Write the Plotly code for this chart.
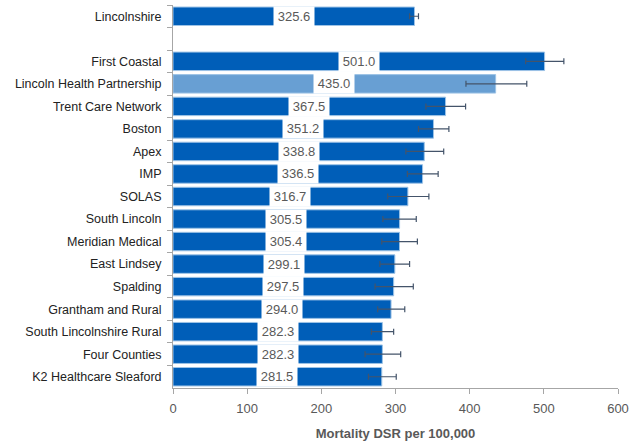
import plotly.graph_objects as go

categories = ["Lincolnshire", " ", "First Coastal", "Lincoln Health Partnership",
              "Trent Care Network", "Boston", "Apex", "IMP", "SOLAS", "South Lincoln",
              "Meridian Medical", "East Lindsey", "Spalding", "Grantham and Rural",
              "South Lincolnshire Rural", "Four Counties", "K2 Healthcare Sleaford"]
values = [325.6, None, 501.0, 435.0, 367.5, 351.2, 338.8, 336.5, 316.7, 305.5,
          305.4, 299.1, 297.5, 294.0, 282.3, 282.3, 281.5]
ci_lower = [319.0, None, 475.5, 395.0, 341.0, 331.0, 314.0, 316.0, 289.5, 283.0,
            281.5, 279.0, 272.5, 276.0, 267.5, 259.0, 263.5]
ci_upper = [331.0, None, 527.0, 477.0, 394.5, 372.0, 365.0, 357.5, 345.0, 328.0,
            329.5, 319.0, 324.0, 312.5, 297.5, 307.0, 301.0]
highlight = "Lincoln Health Partnership"

dark = "#005EB8"
light = "#689FD3"
colors = [light if c == highlight else dark for c in categories]
err_plus = [None if v is None else u - v for v, u in zip(values, ci_upper)]
err_minus = [None if v is None else v - l for v, l in zip(values, ci_lower)]

fig = go.Figure()
fig.add_trace(go.Bar(
    y=categories, x=values, orientation="h",
    marker=dict(color=colors, line=dict(color="#9DC3E6", width=1)),
    width=0.82,
    error_x=dict(type="data", array=err_plus, arrayminus=err_minus,
                 color="#44546A", thickness=1.2, width=3),
    hoverinfo="skip",
))

for c, v in zip(categories, values):
    if v is None:
        continue
    fig.add_annotation(x=v / 2, y=c, xref="x", yref="y", text=f"{v:.1f}",
                       showarrow=False, bgcolor="white", width=40, height=19,
                       borderpad=0,
                       font=dict(family="Liberation Sans", size=13, color="#595959"))

fig.update_layout(
    width=643, height=441,
    margin=dict(l=173, r=25, t=5, b=53),
    plot_bgcolor="white", paper_bgcolor="white",
    showlegend=False,
    font=dict(family="Liberation Sans", size=12, color="#222222"),
    bargap=0.18,
)
fig.update_xaxes(range=[0, 600], dtick=100, showgrid=False, zeroline=False,
                 showline=True, linecolor="#A6A6A6", linewidth=1,
                 ticks="outside", ticklen=5, tickcolor="#A6A6A6",
                 ticklabelstandoff=3, automargin=False,
                 tickfont=dict(size=13, color="#595959"),
                 title=dict(text="<b>Mortality DSR per 100,000</b>",
                            font=dict(size=13, color="#595959"), standoff=14))
fig.update_yaxes(categoryorder="array", categoryarray=categories,
                 autorange="reversed", showgrid=False,
                 showline=True, linecolor="#A6A6A6", linewidth=1,
                 ticks="outside", ticklen=5, tickcolor="#A6A6A6",
                 tickson="boundaries", ticklabelstandoff=8, automargin=False,
                 tickfont=dict(size=12.5, color="#222222"))

fig.write_html("out.html")
